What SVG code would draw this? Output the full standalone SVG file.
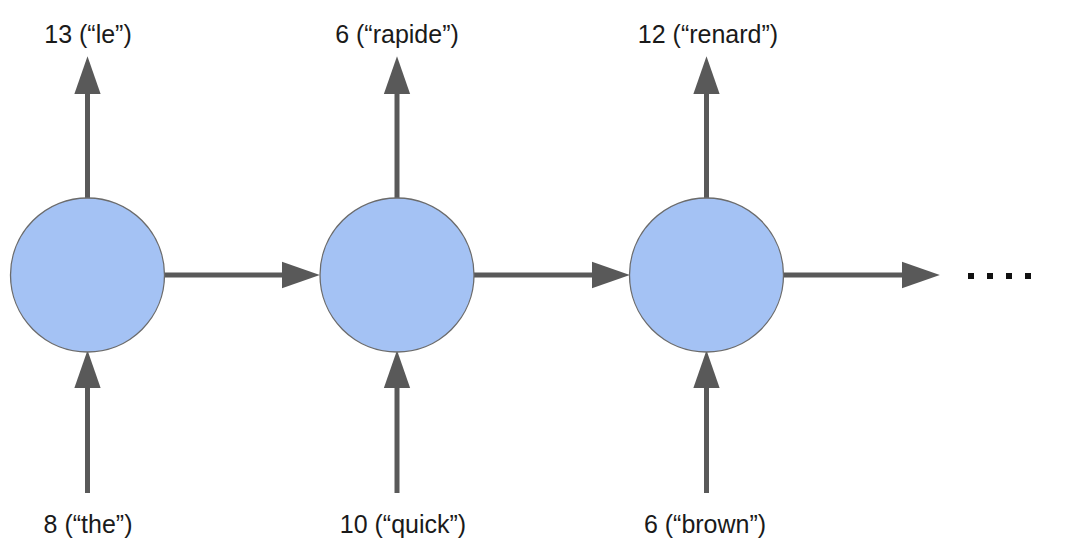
<svg xmlns="http://www.w3.org/2000/svg" width="1080" height="550" viewBox="0 0 1080 550">
<defs>
<style>
.node{fill:#a4c2f4;stroke:#6b6b6b;stroke-width:1.3}
.conn{stroke:#595959;stroke-width:5;fill:none;marker-end:url(#ah)}
.lbl{font-family:"Liberation Sans",Arial,sans-serif;font-size:25px;fill:#1a1a1a;text-anchor:middle}
</style>
<marker id="ah" markerUnits="userSpaceOnUse" markerWidth="40" markerHeight="30" viewBox="0 -13 38 26" refX="1" refY="0" orient="auto">
<path d="M0,-12.5 L36,0 L0,12.5 Z" fill="#595959"/>
</marker>
</defs>
<rect width="1080" height="550" fill="#ffffff"/>
<g id="connectors">
<line class="conn" x1="87.5" y1="198" x2="87.5" y2="93"/>
<line class="conn" x1="397" y1="198" x2="397" y2="93"/>
<line class="conn" x1="706.5" y1="198" x2="706.5" y2="93"/>
<line class="conn" x1="87.5" y1="493" x2="87.5" y2="387"/>
<line class="conn" x1="397" y1="493" x2="397" y2="387"/>
<line class="conn" x1="706.5" y1="493" x2="706.5" y2="387"/>
<line class="conn" x1="165" y1="275" x2="283" y2="275"/>
<line class="conn" x1="474" y1="275" x2="593" y2="275"/>
<line class="conn" x1="784" y1="275" x2="903" y2="275"/>
</g>
<g id="node1"><circle class="node" cx="87.5" cy="275" r="77"/></g>
<g id="node2"><circle class="node" cx="397" cy="275" r="77"/></g>
<g id="node3"><circle class="node" cx="706.5" cy="275" r="77"/></g>
<g id="labels">
<text class="lbl" x="88" y="43">13 (“le”)</text>
<text class="lbl" x="397" y="43">6 (“rapide”)</text>
<text class="lbl" x="708" y="43">12 (“renard”)</text>
<text class="lbl" x="88" y="533">8 (“the”)</text>
<text class="lbl" x="403" y="533">10 (“quick”)</text>
<text class="lbl" x="705" y="533">6 (“brown”)</text>
</g>
<g id="ellipsis" fill="#111111">
<rect x="968" y="273" width="6" height="6"/>
<rect x="987" y="273" width="6" height="6"/>
<rect x="1006" y="273" width="6" height="6"/>
<rect x="1025" y="273" width="6" height="6"/>
</g>
</svg>
